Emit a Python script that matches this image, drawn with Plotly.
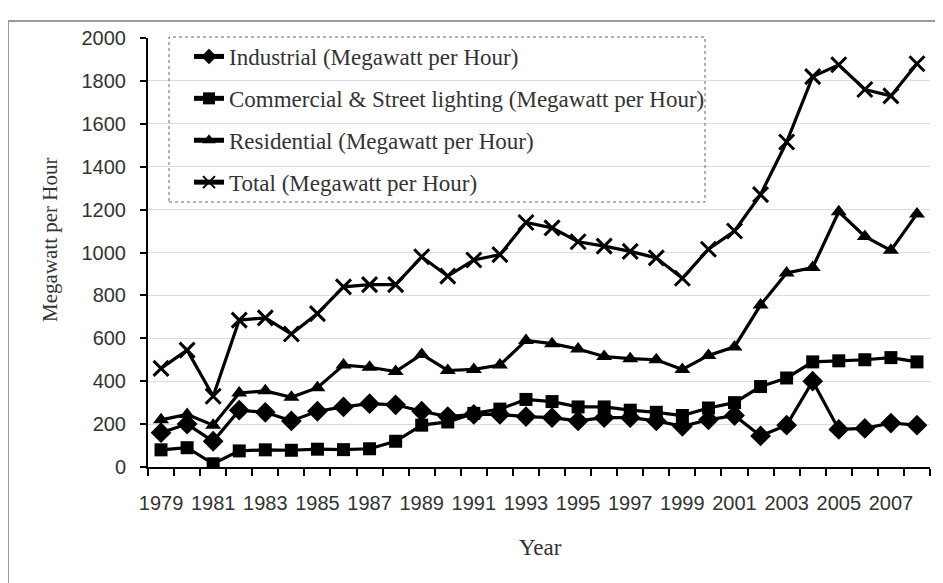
import plotly.graph_objects as go

years = list(range(1979, 2009))
industrial = [160, 200, 120, 265, 255, 215, 260, 280, 295, 290, 260, 235, 245, 245, 235,
              230, 215, 230, 230, 215, 190, 220, 240, 145, 195, 400, 175, 180, 205, 195]
commercial = [80, 90, 15, 75, 80, 78, 83, 81, 85, 120, 195, 210, 250, 270, 315,
              305, 280, 280, 265, 255, 240, 275, 300, 375, 415, 490, 495, 500, 510, 490]
residential = [220, 245, 195, 345, 355, 325, 370, 475, 465, 445, 525, 450, 455, 475, 590,
               575, 550, 515, 505, 500, 455, 520, 560, 755, 905, 930, 1190, 1075, 1010, 1180]
total = [460, 545, 330, 685, 695, 620, 715, 840, 850, 850, 980, 890, 965, 990, 1140,
         1115, 1050, 1030, 1005, 975, 880, 1015, 1100, 1270, 1515, 1820, 1875, 1760, 1730, 1880]
x_tick_labels = [str(y) for y in range(1979, 2009, 2)]
y_ticks = list(range(0, 2001, 200))

names = ["Industrial (Megawatt per Hour)",
         "Commercial & Street lighting (Megawatt per Hour)",
         "Residential (Megawatt per Hour)",
         "Total (Megawatt per Hour)"]
series = [industrial, commercial, residential, total]
symbols = ["diamond", "square", "triangle-up", "x-thin"]
sizes = [16, 13, 14, 15]

fig = go.Figure()
for i, (nm, vals, sym, sz) in enumerate(zip(names, series, symbols, sizes)):
    fig.add_trace(go.Scatter(
        x=years, y=vals, name=nm, mode="lines+markers",
        line=dict(color="black", width=3.2),
        marker=dict(symbol=sym, size=sz, color="black",
                    line=dict(color="black", width=3 if sym == "x-thin" else 0)),
        legendgroup=f"g{i}",
    ))

# page body has an 8px margin: work in screen coordinates and shift
OFF = 8
W, H = 943 - OFF, 583 - OFF
X0, X1, Y0, Y1 = 148, 930, 38, 467   # plot area in screen pixels
L, R, T, B = X0 - OFF, W - (X1 - OFF), Y0 - OFF, H - (Y1 - OFF)
pw, ph = X1 - X0, Y1 - Y0

def px(xs):
    return (xs - X0) / pw

def py(ys):
    return (Y1 - ys) / ph

serif = "Liberation Serif"
fig.update_layout(
    width=W, height=H,
    margin=dict(l=L, r=R, t=T, b=B, autoexpand=False),
    paper_bgcolor="white", plot_bgcolor="white",
    showlegend=True,
    legend=dict(x=px(189), y=py(35), xanchor="left", yanchor="top",
                bgcolor="rgba(0,0,0,0)", borderwidth=0,
                font=dict(family=serif, size=23, color="#333"),
                tracegroupgap=9, itemsizing="constant"),
    xaxis=dict(range=[1978.5, 2008.5], tickmode="array",
               tickvals=list(range(1979, 2009, 2)), ticktext=x_tick_labels,
               ticks="", showgrid=False, zeroline=False,
               showline=True, linecolor="black", linewidth=2,
               tickfont=dict(family="Liberation Sans", size=20, color="#333"),
               ticklabelstandoff=17,
               minor=dict(tickvals=[y - 0.5 for y in range(1979, 2010)],
                          ticks="outside", ticklen=7, tickwidth=2,
                          tickcolor="black", showgrid=False)),
    yaxis=dict(range=[0, 2000], tickmode="array", tickvals=y_ticks,
               ticks="outside", ticklen=6, tickwidth=2, tickcolor="black",
               showgrid=True, gridcolor="#dcdcdc", gridwidth=1,
               zeroline=False, showline=True, linecolor="black", linewidth=2,
               tickfont=dict(family="Liberation Sans", size=20, color="#333"),
               ticklabelstandoff=10),
    annotations=[
        dict(text="Megawatt per Hour", xref="paper", yref="paper",
             x=px(50), y=py(240), xanchor="center", yanchor="middle",
             showarrow=False, textangle=-90,
             font=dict(family=serif, size=21, color="#333")),
        dict(text="Year", xref="paper", yref="paper",
             x=px(540), y=py(547), xanchor="center", yanchor="middle",
             showarrow=False,
             font=dict(family=serif, size=23, color="#333")),
    ],
    shapes=[
        dict(type="rect", xref="paper", yref="paper",
             x0=px(169), x1=px(705), y0=py(202), y1=py(37),
             line=dict(color="#666", width=1, dash="dot")),
        dict(type="line", xref="paper", yref="paper",
             x0=px(8), x1=px(960), y0=py(21), y1=py(21),
             line=dict(color="#9a9a9a", width=2)),
        dict(type="line", xref="paper", yref="paper",
             x0=px(8), x1=px(8), y0=py(21), y1=py(600),
             line=dict(color="#9a9a9a", width=2)),
    ],
)

fig.write_html("out.html")
